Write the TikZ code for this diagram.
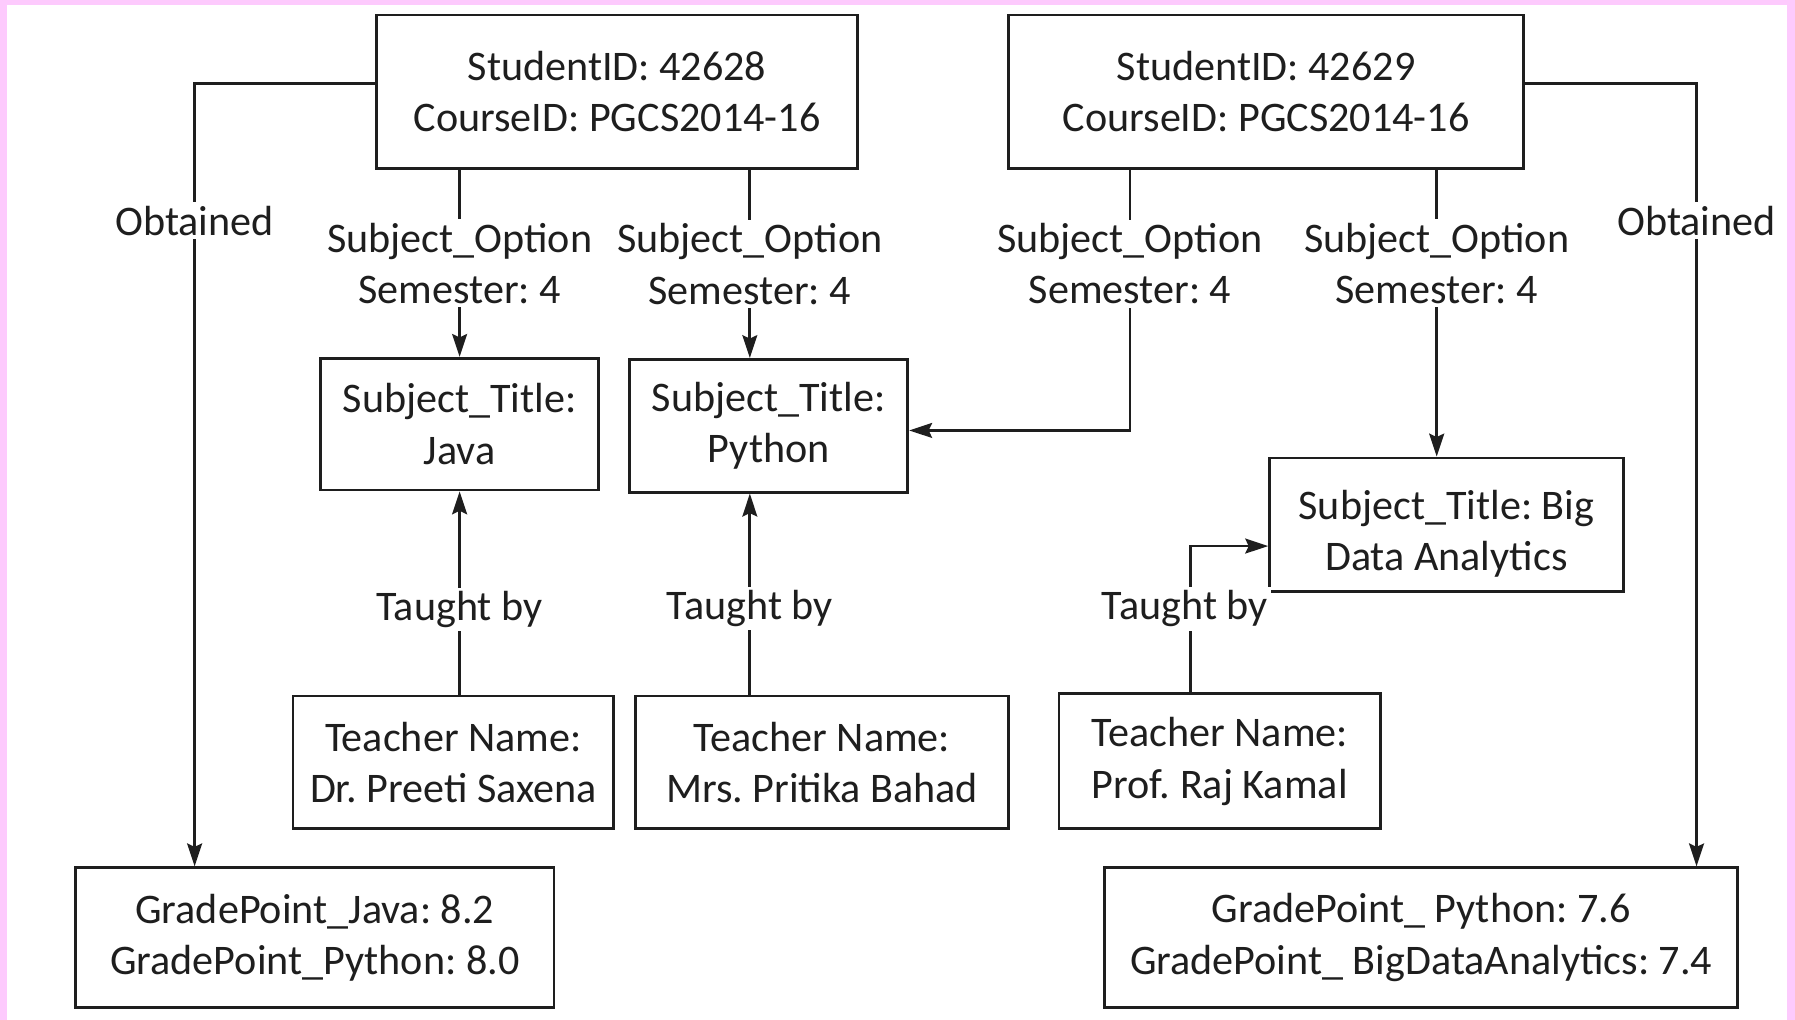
\documentclass[tikz,border=0pt]{standalone}
\usepackage{fontspec}
\setmainfont{Carlito}
\usetikzlibrary{arrows.meta}
\definecolor{framepink}{RGB}{253,202,253}
\definecolor{inkgray}{RGB}{30,30,30}
\frenchspacing
\begin{document}
\begin{tikzpicture}[x=1pt,y=-1pt,
  every node/.style={font=\fontsize{36.8}{45}\selectfont\frenchspacing, text=inkgray},
  box/.style={draw=inkgray, line width=2.4pt, rectangle, inner sep=0pt, align=center},
  lab/.style={fill=white, inner sep=3pt, align=center},
  conn/.style={draw=inkgray, line width=2.4pt},
  arr/.style={conn, -{Stealth[length=20pt,width=13pt,inset=3pt]}}]
\useasboundingbox (0,0) rectangle (1568,891);
\fill[framepink] (0,0) rectangle (1568,891);
\fill[white] (6,4) rectangle (1561,891);

% boxes
\node[box, minimum width=420pt, minimum height=134pt] (A) at (539,80) {StudentID: 42628\\CourseID: PGCS2014-16};
\node[box, minimum width=450pt, minimum height=134pt] (B) at (1106,80) {StudentID: 42629\\CourseID: PGCS2014-16};
\node[box, minimum width=243pt, minimum height=115pt] (java) at (401.5,370.5) {Subject\_Title:\\Java};
\node[box, minimum width=243pt, minimum height=116pt] (py) at (671.5,372) {Subject\_Title:\\Python};
\node[box, minimum width=309pt, minimum height=117pt] (bd) at (1263.5,458.5) {\rule{0pt}{41pt}Subject\_Title: Big\\Data Analytics};
\node[box, minimum width=280pt, minimum height=116pt] (t1) at (396,666) {Teacher Name:\\Dr. Preeti Saxena};
\node[box, minimum width=326pt, minimum height=116pt] (t2) at (718,666) {Teacher Name:\\Mrs. Pritika Bahad};
\node[box, minimum width=281pt, minimum height=118pt] (t3) at (1065.5,665) {Teacher Name:\\Prof. Raj Kamal};
\node[box, minimum width=418pt, minimum height=122pt] (gL) at (275,819) {GradePoint\_Java: 8.2\\GradePoint\_Python: 8.0};
\node[box, minimum width=553pt, minimum height=122pt] (gR) at (1241.5,819) {GradePoint\_ Python: 7.6\\GradePoint\_ BigDataAnalytics: 7.4};

% helper coordinates
\coordinate (cL) at (170,73);
\coordinate (cR) at (1482,73);
\coordinate (c2) at (655,0);
\coordinate (c3) at (987,376);
\coordinate (c4) at (1255,0);
\coordinate (c5) at (1040,477);

% Obtained
\draw[arr] (A.west |- cL) -- (cL) -- node[lab,pos=0.175]{Obtained} (gL.north -| cL);
\draw[arr] (B.east |- cR) -- (cR) -- node[lab,pos=0.175]{Obtained} (gR.north -| cR);

% Subject options
\draw[arr] (A.south -| java.north) -- node[lab]{Subject\_Option\\Semester: 4} (java.north);
\draw[arr] (A.south -| c2) -- node[lab]{Subject\_Option\\Semester: 4} (py.north -| c2);
\draw[arr] (B.south -| c3) -- node[lab,pos=0.36]{Subject\_Option\\Semester: 4} (c3) -- (py.east |- c3);
\draw[arr] (B.south -| c4) -- node[lab,pos=0.327]{Subject\_Option\\Semester: 4} (bd.north -| c4);

% Taught by
\draw[arr] (t1.north -| java.south) -- node[lab,pos=0.42]{Taught by} (java.south);
\draw[arr] (t2.north -| c2) -- node[lab,pos=0.427]{Taught by} (py.south -| c2);
\draw[arr] (t3.north -| c5) -- node[lab,pos=0.57,xshift=-5pt]{Taught by} (c5) -- (bd.west |- c5);
\end{tikzpicture}
\end{document}
